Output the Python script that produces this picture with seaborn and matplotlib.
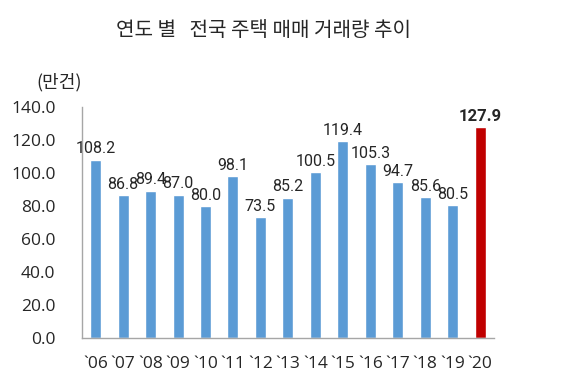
import pandas as pd
import seaborn as sns
import matplotlib.pyplot as plt

years = ["`06", "`07", "`08", "`09", "`10", "`11", "`12", "`13", "`14",
         "`15", "`16", "`17", "`18", "`19", "`20"]
volume = [108.2, 86.8, 89.4, 87.0, 80.0, 98.1, 73.5, 85.2, 100.5,
          119.4, 105.3, 94.7, 85.6, 80.5, 127.9]
highlight = ["past"] * 14 + ["now"]

df = pd.DataFrame({"year": years, "volume": volume, "kind": highlight})

sns.set_style("white")
plt.rcParams["font.family"] = ["Noto Sans CJK KR", "DejaVu Sans"]
latin = ["Open Sans", "DejaVu Sans"]
narrow = ["Roboto", "DejaVu Sans"]

fig = plt.figure(figsize=(5.69, 3.76), dpi=100)
ax = fig.add_axes([0.144, 0.101, 0.724, 0.614])

my_pal = {"past": "#5B9BD5", "now": "#C00000"}
sns.barplot(data=df, x="year", y="volume", hue="kind", palette=my_pal,
            width=0.4, dodge=False, legend=False, saturation=1, ax=ax)

for i, v in enumerate(volume):
    last = i == len(volume) - 1
    ax.text(i, v + 2.0, f"{v:.1f}", ha="center", va="bottom",
            fontsize=12 if last else 11.5,
            fontweight="bold" if last else "normal", family=narrow)

ax.set_ylim(0, 140)
ax.set_xlim(-0.5, len(years) - 0.5)
ax.set_yticks(range(0, 141, 20))
ax.set_yticklabels([f"{t:.1f}" for t in range(0, 141, 20)],
                   fontsize=12.5, family=latin)
ax.set_xticks([i for i in range(len(years))])
ax.set_xticklabels(years, fontsize=12.5, family=latin)
ax.set_xticks([i - 0.5 for i in range(len(years) + 1)], minor=True)
ax.tick_params(axis="x", which="major", length=0, pad=13)
ax.tick_params(axis="x", which="minor", length=5, color="#A6A6A6", width=1)
ax.tick_params(axis="y", length=0, pad=19)

ax.set_xlabel("")
ax.set_ylabel("")
for s in ["top", "right"]:
    ax.spines[s].set_visible(False)
for s in ["left", "bottom"]:
    ax.spines[s].set_color("#A6A6A6")
    ax.spines[s].set_linewidth(1)

fig.text(0.463, 0.92, "연도 별   전국 주택 매매 거래량 추이", ha="center", va="center",
         fontsize=14.5, fontweight="medium")
fig.text(0.104, 0.782, "(만건)", ha="center", va="center", fontsize=13)

fig.savefig("out.png", dpi=100)
